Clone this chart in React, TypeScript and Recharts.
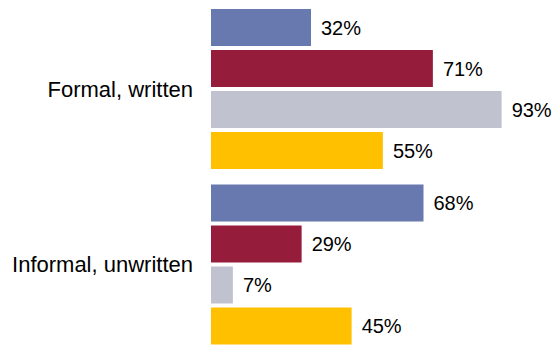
import React from "react";
import { BarChart, Bar, XAxis, YAxis, LabelList } from "recharts";

const categories = ["Formal, written", "Informal, unwritten"];
const seriesA = [32, 68];
const seriesB = [71, 29];
const seriesC = [93, 7];
const seriesD = [55, 45];

const colors = ["#6879b0", "#951c3a", "#c1c2d0", "#ffc000"];

const data = categories.map((name, i) => ({
  name,
  a: seriesA[i],
  b: seriesB[i],
  c: seriesC[i],
  d: seriesD[i],
}));

const font = "'Liberation Sans', Arial, sans-serif";
const fmt = (v: any) => `${v}%`;

export default function App() {
  const keys = ["a", "b", "c", "d"];
  return (
    <div style={{ position: "absolute", left: 0, top: 0, width: 555, height: 346, overflow: "hidden", background: "#fff" }}>
      <BarChart
        width={555}
        height={360}
        data={data}
        layout="vertical"
        margin={{ top: 1, right: 31.5, bottom: 8, left: 0 }}
        barCategoryGap={8}
        barGap={4}
      >
        <XAxis type="number" domain={[0, 100]} hide />
        <YAxis
          type="category"
          dataKey="name"
          width={211}
          axisLine={false}
          tickLine={false}
          tickSize={0}
          tickMargin={18}
          tick={{ fill: "#000", fontSize: 22, fontFamily: font }}
        />
        {keys.map((k, i) => (
          <Bar key={k} dataKey={k} fill={colors[i]} isAnimationActive={false}>
            <LabelList
              dataKey={k}
              position="right"
              offset={10}
              formatter={fmt}
              style={{ fill: "#000", fontSize: 20, fontFamily: font }}
            />
          </Bar>
        ))}
      </BarChart>
    </div>
  );
}
